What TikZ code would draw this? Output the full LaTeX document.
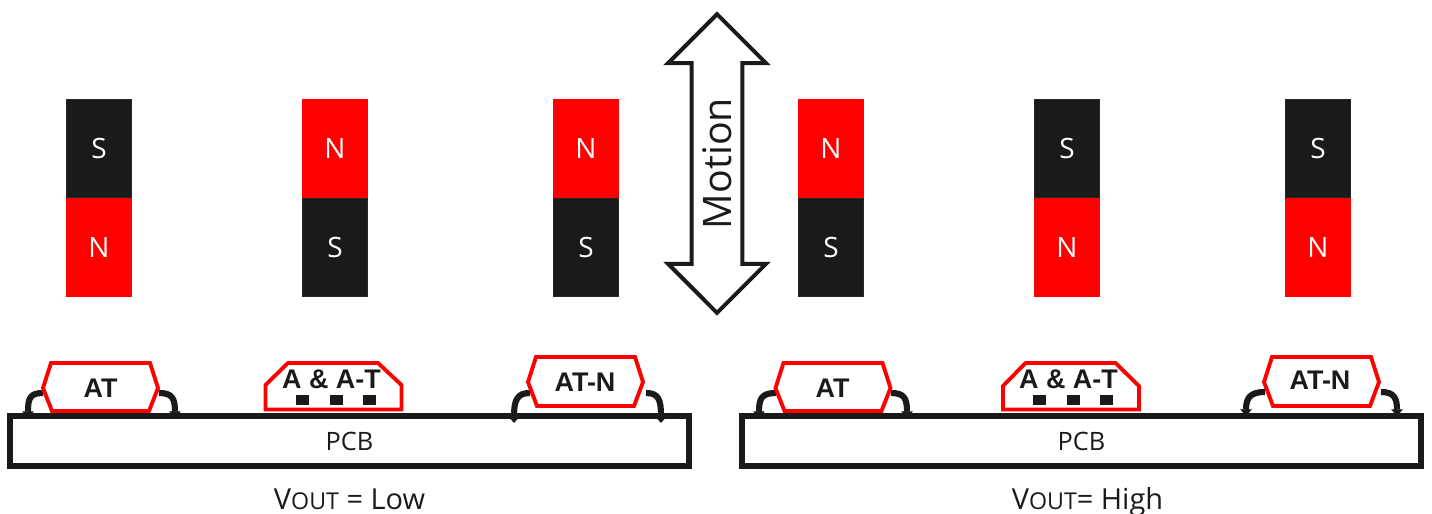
\documentclass[tikz,border=0pt]{standalone}
\usepackage{fontspec}
\setmainfont{Open Sans}
\newfontfamily\chipfont{Liberation Sans}
\usetikzlibrary{arrows.meta,shapes.arrows}

\definecolor{inkblack}{HTML}{1A1A1A}

\tikzset{
    magnetN/.style={fill=red, text=white, minimum width=49.5pt, minimum height=74.25pt, inner sep=0pt, font=\fontsize{21}{21}\selectfont},
    magnetS/.style={magnetN, fill=inkblack, draw=black!85, line width=0.8pt, minimum width=48.7pt, minimum height=73.45pt},
    chip/.style={draw=red, line width=2.9pt, line join=miter},
    chiplabel/.style={text=inkblack, inner sep=0pt, font=\chipfont\bfseries\fontsize{20.2}{20.2}\selectfont},
    lead/.style={draw=inkblack, line width=4.6pt, -{Triangle[width=8.5pt,length=5pt]}},
    pcbbox/.style={draw=inkblack, line width=4.1pt, minimum width=509.25pt, minimum height=37.5pt, inner sep=0pt, text=inkblack, font=\fontsize{19}{19}\selectfont},
    pin/.style={fill=inkblack, minimum width=9.75pt, minimum height=7.5pt, inner sep=0pt},
    vout/.style={text=inkblack, inner sep=0pt, anchor=base, font=\fontsize{21.7}{21.7}\selectfont},
    motion/.style={double arrow, draw=inkblack, line width=3pt, rotate=90, double arrow head extend=11.5pt, double arrow tip angle=90, minimum width=73.5pt, minimum height=224pt, inner sep=0pt, text=inkblack, font=\fontsize{29.5}{29.5}\selectfont}
}

\begin{document}
\begin{tikzpicture}[x=0.75pt, y=-0.75pt]
    \useasboundingbox (0, 0) rectangle (1432, 514);

    % magnets
    \node[magnetS] (sa) at (99, 148.5) {S};
    \node[magnetN] (na) at (99, 247.5) {N};
    \node[magnetN] (nb) at (335, 148.5) {N};
    \node[magnetS] (sb) at (335, 247.5) {S};
    \node[magnetN] (nc) at (586, 148.5) {N};
    \node[magnetS] (sc) at (586, 247.5) {S};
    \node[magnetN] (nd) at (831, 148.5) {N};
    \node[magnetS] (sd) at (831, 247.5) {S};
    \node[magnetS] (se) at (1067, 148.5) {S};
    \node[magnetN] (ne) at (1067, 247.5) {N};
    \node[magnetS] (sf) at (1318, 148.5) {S};
    \node[magnetN] (nf) at (1318, 247.5) {N};

    \node[motion] (arrow) at (717, 163.5) {Motion};

    % boards
    \node[pcbbox] (pcb1) at (349.5, 441) {PCB};
    \node[pcbbox] (pcb2) at (1081.5, 441) {PCB};

    % left board
    \coordinate (at1l) at (43, 393);
    \coordinate (at1r) at (159, 393);
    \coordinate (at1a) at (28, 418);
    \coordinate (at1b) at (175, 418);
    \draw[lead] (at1l) .. controls (30, 393) and (28, 398) .. (at1a);
    \draw[lead] (at1r) .. controls (172, 393) and (175, 398) .. (at1b);
    \draw[chip] (51, 363) -- (150, 363) -- (158, 388) -- (149, 411) -- (52, 411) -- (43, 388) -- cycle;
    \node[chiplabel] (at1) at (100.5, 388) {AT};

    \draw[chip] (288, 363) -- (378, 363) -- (401.5, 385) -- (401.5, 409.5) -- (265.5, 409.5) -- (265.5, 385) -- cycle;
    \node[chiplabel] (aat1) at (331.5, 379) {A \& A-T};
    \node[pin] (pa1) at (302.5, 400) {};
    \node[pin] (pb1) at (336, 400) {};
    \node[pin] (pc1) at (369.5, 400) {};

    \coordinate (atn1l) at (530, 393);
    \coordinate (atn1r) at (646, 393);
    \coordinate (atn1a) at (514, 423);
    \coordinate (atn1b) at (661, 423);
    \draw[lead] (atn1l) .. controls (517, 393) and (514, 400) .. (atn1a);
    \draw[lead] (atn1r) .. controls (659, 393) and (661, 400) .. (atn1b);
    \draw[chip] (536, 357) -- (635, 357) -- (643, 382) -- (634, 406) -- (537, 406) -- (528, 382) -- cycle;
    \node[chiplabel] (atn1) at (585, 382) {AT-N};

    % right board
    \coordinate (at2l) at (776, 393);
    \coordinate (at2r) at (891, 393);
    \coordinate (at2a) at (759, 418);
    \coordinate (at2b) at (907, 418);
    \draw[lead] (at2l) .. controls (762, 393) and (759, 398) .. (at2a);
    \draw[lead] (at2r) .. controls (904, 393) and (907, 398) .. (at2b);
    \draw[chip] (783.5, 363) -- (882.5, 363) -- (890.5, 388) -- (881.5, 411) -- (784.5, 411) -- (775.5, 388) -- cycle;
    \node[chiplabel] (at2) at (832.5, 388) {AT};

    \draw[chip] (1025.5, 363) -- (1115.5, 363) -- (1139, 386) -- (1139, 409.5) -- (1003, 409.5) -- (1003, 386) -- cycle;
    \node[chiplabel] (aat2) at (1068.5, 379) {A \& A-T};
    \node[pin] (pa2) at (1039.5, 400) {};
    \node[pin] (pb2) at (1073.5, 400) {};
    \node[pin] (pc2) at (1106.5, 400) {};

    \coordinate (atn2l) at (1265, 392);
    \coordinate (atn2r) at (1381, 392);
    \coordinate (atn2a) at (1246, 416);
    \coordinate (atn2b) at (1397, 416);
    \draw[lead] (atn2l) .. controls (1250, 392) and (1246, 398) .. (atn2a);
    \draw[lead] (atn2r) .. controls (1394, 392) and (1397, 398) .. (atn2b);
    \draw[chip] (1272, 357) -- (1371, 357) -- (1379, 382) -- (1370, 406) -- (1273, 406) -- (1264, 382) -- cycle;
    \node[chiplabel] (atn2) at (1320, 380) {AT-N};

    % output levels
    \node[vout] (low) at (349.5, 509) {V{\fontsize{17.4}{17.4}\selectfont OUT} = Low};
    \node[vout] (high) at (1087.5, 509) {V{\fontsize{17.4}{17.4}\selectfont OUT}= High};
\end{tikzpicture}
\end{document}
